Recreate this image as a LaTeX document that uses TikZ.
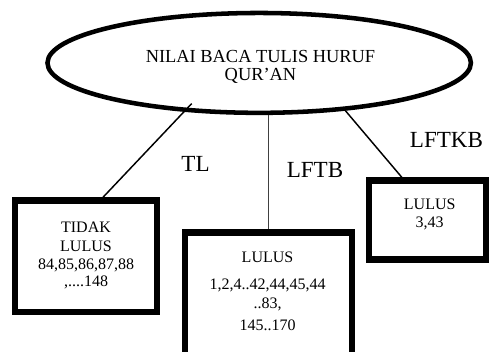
\documentclass[tikz,border=0pt]{standalone}
\usepackage{fontspec}
\setmainfont{Liberation Serif}
\usetikzlibrary{shapes.geometric}

\begin{document}
\begin{tikzpicture}[x=0.75pt,y=-0.75pt,line width=1.1pt,
  box/.style={draw,line width=4.7pt,inner sep=0pt},
  boxtext/.style={align=center,inner sep=0pt,font=\fontsize{12}{13.7}\selectfont},
  branch/.style={inner sep=0pt,font=\fontsize{17.3}{20}\selectfont}]
\useasboundingbox (0,0) rectangle (489,351);
% top ellipse
\node[draw,ellipse,line width=3.4pt,inner sep=0pt,minimum width=317.6pt,minimum height=74.9pt] (nilai) at (259.2,62.9) {};
\node[align=center,inner sep=0pt,font=\fontsize{13.8}{13.7}\selectfont] (nilaiText) at (260.5,66.9) {NILAI BACA TULIS HURUF\\QUR’AN};
% left box
\node[box,minimum width=106.3pt,minimum height=83.5pt] (tidak) at (86,256.1) {};
\node[boxtext] (tidakText) at (86,255.5) {TIDAK\\LULUS\\84,85,86,87,88\\[-1.2pt],....148};
% middle box (runs past the bottom edge)
\node[box,minimum width=125.3pt,minimum height=93pt] (lulusB) at (268.35,294.5) {};
\node[boxtext] (lulusBText) at (267.5,291.6) {LULUS\\[6.2pt]1,2,4..42,44,45,44\\[0.5pt]..83,\\[3.3pt]145..170};
% right box
\node[box,minimum width=87.8pt,minimum height=59.3pt] (lulusC) at (427.7,220) {};
\node[boxtext] (lulusCText) at (429.7,214.7) {LULUS\\3,43};
% branches
\draw[shorten <=-8.5pt] (nilai.213) -- ([xshift=12.75pt]tidak.north);
\draw[line width=0.75pt,black!75] (nilai.south -| lulusB.north) -- (lulusB.north);
\draw (nilai.331) -- ([xshift=-19.4pt]lulusC.north);
% branch labels
\node[branch] (tl) at (195.5,163.5) {TL};
\node[branch] (lftb) at (315,170) {LFTB};
\node[branch] (lftkb) at (446.5,139.5) {LFTKB};
\end{tikzpicture}
\end{document}
